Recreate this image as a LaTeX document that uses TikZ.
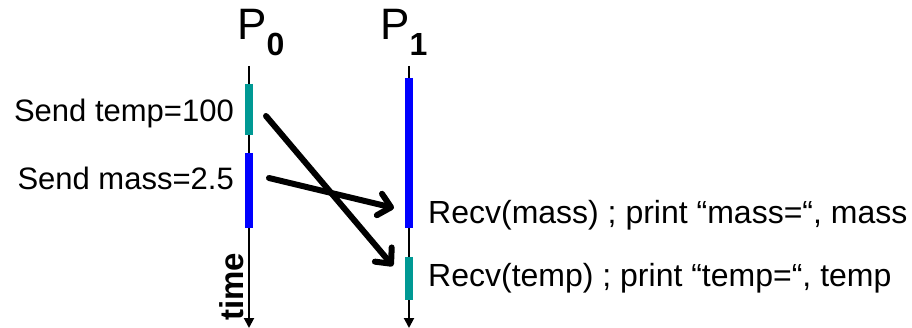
\documentclass[tikz,border=0pt]{standalone}
\usepackage{fontspec}
\setmainfont{Liberation Sans}
\usetikzlibrary{arrows.meta}
\definecolor{tealbar}{RGB}{0,153,148}
\definecolor{bluebar}{RGB}{0,0,255}
\begin{document}
\begin{tikzpicture}[x=1pt,y=-1pt,
  lbl/.style={font=\fontsize{32}{36}\selectfont, inner sep=0pt},
  slbl/.style={font=\fontsize{31}{36}\selectfont, inner sep=0pt},
  proc/.style={font=\fontsize{44}{50}\selectfont, inner sep=0pt},
  timeline/.style={line width=2pt, -{Triangle[length=10pt,width=10pt]}},
  sendbar/.style={line width=8pt, tealbar},
  workbar/.style={line width=8pt, bluebar},
  msg/.style={line width=6pt, line cap=round, -{Straight Barb[length=12pt,width=22pt,line cap=round,round]}}]
\useasboundingbox (0,0) rectangle (912,328);
% process labels
\node[proc, anchor=base west] (p0) at (237,40) {P\raisebox{-16pt}{\fontsize{32}{32}\selectfont\bfseries 0}};
\node[proc, anchor=base west] (p1) at (380,40) {P\raisebox{-16pt}{\fontsize{32}{32}\selectfont\bfseries 1}};
% timelines
\coordinate (t0top) at (249,66);
\coordinate (t0bot) at (249,328);
\coordinate (t1top) at (409,66);
\coordinate (t1bot) at (409,328);
\draw[timeline] (t0top) -- (t0bot);
\draw[timeline] (t1top) -- (t1bot);
% bars
\coordinate (s0a) at (249,84);  \coordinate (s0b) at (249,135);
\coordinate (w0a) at (249,153); \coordinate (w0b) at (249,228);
\coordinate (w1a) at (409,78);  \coordinate (w1b) at (409,228);
\coordinate (s1a) at (409,257); \coordinate (s1b) at (409,300);
\draw[sendbar] (s0a) -- (s0b);
\draw[workbar] (w0a) -- (w0b);
\draw[workbar] (w1a) -- (w1b);
\draw[sendbar] (s1a) -- (s1b);
% messages
\coordinate (m1s) at (266,116);
\coordinate (m1e) at (393,266);
\coordinate (m2s) at (269,178);
\coordinate (m2e) at (394,208);
\draw[msg] (m1s) -- (m1e);
\draw[msg] (m2s) -- (m2e);
% labels
\node[slbl, anchor=east] (l1) at (234,113) {Send temp=100};
\node[slbl, anchor=east] (l2) at (234,178) {Send mass=2.5};
\node[lbl, anchor=west] (l3) at (428,215) {Recv(mass) ; print “mass=“, mass};
\node[lbl, anchor=west] (l4) at (428,278) {Recv(temp) ; print “temp=“, temp};
\node[lbl, font=\fontsize{33}{36}\selectfont\bfseries, rotate=90] (tm) at (232,287) {time};
\end{tikzpicture}
\end{document}
